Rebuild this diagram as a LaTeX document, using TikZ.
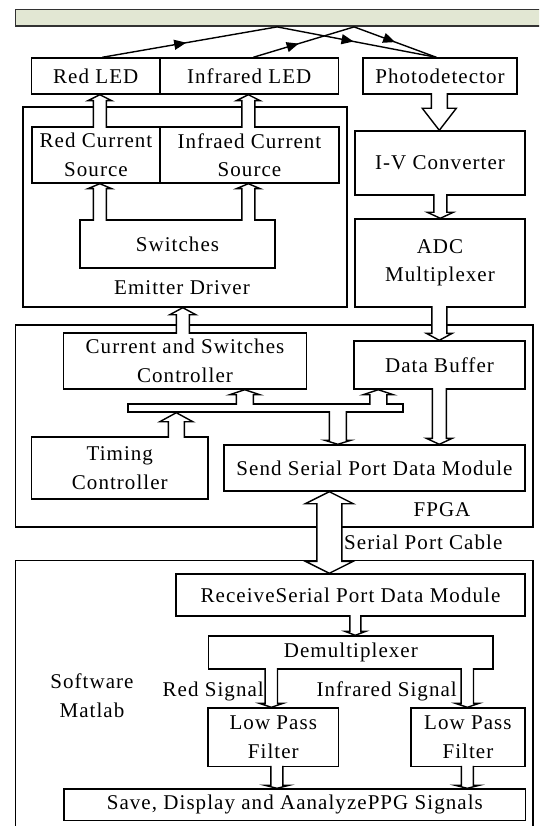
\documentclass[tikz,border=0pt]{standalone}
\usepackage{fontspec}
\setmainfont{Liberation Serif}[LetterSpace=5]
\usetikzlibrary{calc,arrows.meta,decorations.markings}
\definecolor{tissuefill}{RGB}{226,231,211}
\definecolor{tissueedge}{RGB}{50,50,50}

% Hollow block arrow with an open tail: #1 tail point, #2 tip point,
% #3 half shaft width, #4 half head width, #5 head length
\newcommand\hollowarrow[5]{%
  \filldraw[blockline, fill=white] let \p1=#1, \p2=#2, \n1={ifthenelse(\y2>\y1,1,-1)} in
    ({\x2-#3},{\y1-(\n1)*1.5pt}) -- ({\x2-#3},{\y2-(\n1)*#5}) -- ({\x2-#4},{\y2-(\n1)*#5})
    -- (\x2,\y2) -- ({\x2+#4},{\y2-(\n1)*#5}) -- ({\x2+#3},{\y2-(\n1)*#5})
    -- ({\x2+#3},{\y1-(\n1)*1.5pt});
}

\begin{document}
\begin{tikzpicture}[x=1pt, y=-1pt,
  font=\fontsize{21}{28.5}\selectfont,
  box/.style={draw, line width=1.4pt, inner sep=0pt, align=center},
  lbl/.style={inner sep=0pt, align=center},
  blockline/.style={line width=1.4pt, line join=miter},
  light/.style={line width=1.4pt, postaction={decorate},
    decoration={markings, mark=at position #1 with {\arrow{Triangle[length=12pt,width=10pt]}}}}]
\useasboundingbox (0,0) rectangle (539,826);
\clip (0,0) rectangle (539,826);

% measured tissue
\node[draw=tissueedge, fill=tissuefill, line width=1.8pt, minimum width=530pt,
      minimum height=16.5pt, inner sep=0pt] (tissue) at (280.5,17.75) {};

% optical front end
\node[box, minimum width=128.5pt, minimum height=36pt] (redled) at (95.75,76) {Red LED};
\node[box, minimum width=178.5pt, minimum height=36pt] (irled) at (249.25,76) {Infrared LED};
\node[box, minimum width=154pt, minimum height=36pt] (pd) at (440,76) {Photodetector};

% emitter driver
\node[box, minimum width=324pt, minimum height=200pt] (emitter) at (185,207) {};
\node[lbl] (emitterlbl) at (182,288) {Emitter Driver};
\node[box, minimum width=128pt, minimum height=56pt] (rcs) at (96,155) {Red Current\\Source};
\node[box, minimum width=179pt, minimum height=56pt] (ics) at (249.5,155) {Infraed Current\\Source};
\node[box, minimum width=195pt, minimum height=48pt] (sw) at (177.5,244) {Switches};

% receiver chain
\node[box, minimum width=170pt, minimum height=64pt] (iv) at (440,163) {I-V Converter};
\node[box, minimum width=170pt, minimum height=88pt] (adc) at (440,263) {ADC\\Multiplexer};

% FPGA
\node[box, minimum width=517.5pt, minimum height=202pt] (fpga) at (274.25,426) {};
\node[lbl] (fpgalbl) at (442,510) {FPGA};
\node[box, minimum width=243pt, minimum height=56pt] (csc) at (185,361) {Current and Switches\\Controller};
\node[box, minimum width=171pt, minimum height=48pt] (db) at (439.5,365) {Data Buffer};
\node[box, minimum width=275pt, minimum height=8pt] (bus) at (265.5,408) {};
\node[box, minimum width=176.4pt, minimum height=62pt] (timing) at (119.8,468) {Timing\\Controller};
\node[box, minimum width=301pt, minimum height=46pt] (ssend) at (374.5,468) {Send Serial Port Data Module};

% software side
\node[box, minimum width=517.5pt, minimum height=279.4pt] (soft) at (274.25,700.3) {};
\node[lbl] (softlbl) at (92,695.5) {Software\\Matlab};
\node[box, minimum width=349pt, minimum height=42pt] (recv) at (350.5,595) {ReceiveSerial Port Data Module};
\node[box, minimum width=284.3pt, minimum height=33pt] (demux) at (350.85,652.5) {Demultiplexer};
\node[box, minimum width=130.6pt, minimum height=58.6pt] (lpf1) at (273.3,737.3) {Low Pass\\Filter};
\node[box, minimum width=114.2pt, minimum height=58.6pt] (lpf2) at (467.9,737.3) {Low Pass\\Filter};
\node[box, minimum width=461.7pt, minimum height=31.7pt] (save) at (294.85,804.85) {Save, Display and AanalyzePPG Signals};

\node[lbl, anchor=west] (cablelbl) at (344,542) {Serial Port Cable};
\node[lbl, anchor=east] (redsig) at (264,691) {Red Signal};
\node[lbl, anchor=east] (irsig) at (457,691) {Infrared Signal};

% light paths through the tissue
\coordinate (t1) at ($(tissue.south west)+(262.5,0)$);
\coordinate (t2) at ($(tissue.south west)+(339.5,0)$);
\coordinate (r1) at ($(redled.north west)+(71.5,0)$);
\coordinate (i1) at ($(irled.north west)+(94,0)$);
\coordinate (p1) at ($(pd.north west)+(74,0)$);
\draw[light=0.48] (r1) -- (t1);
\draw[light=0.48] (t1) -- (p1);
\draw[light=0.45] (i1) -- (t2);
\draw[light=0.5] (t2) -- (p1);

% block arrows
\coordinate (a1) at ($(rcs.north west)+(68.5,0)$);
\coordinate (a2) at ($(ics.north west)+(89,0)$);
\coordinate (a3) at ($(sw.north west)+(20.5,0)$);
\coordinate (a4) at ($(sw.north west)+(169,0)$);
\coordinate (a5) at ($(pd.south west)+(77,0)$);
\coordinate (a6) at ($(iv.south west)+(86,0)$);
\coordinate (a7) at ($(adc.south west)+(85,0)$);
\coordinate (a8) at ($(csc.north west)+(120,0)$);
\coordinate (a9) at ($(bus.north west)+(117.5,0)$);
\coordinate (a10) at ($(bus.north west)+(251,0)$);
\coordinate (a11) at ($(bus.south west)+(210.5,0)$);
\coordinate (a12) at ($(timing.north west)+(145.4,0)$);
\coordinate (a13) at ($(db.south west)+(86,0)$);
\coordinate (a14) at ($(recv.south west)+(180,0)$);
\coordinate (a15) at ($(demux.south west)+(63.3,0)$);
\coordinate (a16) at ($(demux.south west)+(259.3,0)$);
\coordinate (a17) at ($(lpf1.south west)+(69.6,0)$);
\coordinate (a18) at ($(lpf2.south west)+(57.2,0)$);

\hollowarrow{(a1)}{(a1 |- redled.south)}{6.5pt}{12pt}{6pt}
\hollowarrow{(a2)}{(a2 |- irled.south)}{6.5pt}{12pt}{6pt}
\hollowarrow{(a3)}{(a3 |- rcs.south)}{6.5pt}{12pt}{5pt}
\hollowarrow{(a4)}{(a4 |- ics.south)}{6.5pt}{12pt}{5pt}
\hollowarrow{(a5)}{(a5 |- iv.north)}{8pt}{17pt}{22pt}
\hollowarrow{(a6)}{(a6 |- adc.north)}{6.5pt}{13pt}{6pt}
\hollowarrow{(a7)}{(a7 |- db.north)}{7.5pt}{13pt}{7pt}
\hollowarrow{(a8)}{(a8 |- emitter.south)}{6.5pt}{13pt}{7pt}
\hollowarrow{(a9)}{(a9 |- csc.south)}{8.5pt}{15pt}{5pt}
\hollowarrow{(a10)}{(a10 |- db.south)}{8.5pt}{15pt}{5pt}
\hollowarrow{(a11)}{(a11 |- ssend.north)}{8.5pt}{13pt}{4pt}
\hollowarrow{(a12)}{(a12 |- bus.south)}{8pt}{16.5pt}{9pt}
\hollowarrow{(a13)}{(a13 |- ssend.north)}{7pt}{13pt}{6pt}
\hollowarrow{(a14)}{(a14 |- demux.north)}{5.5pt}{10.5pt}{4pt}
\hollowarrow{(a15)}{(a15 |- lpf1.north)}{6.2pt}{12pt}{4pt}
\hollowarrow{(a16)}{(a16 |- lpf2.north)}{6.2pt}{12pt}{4pt}
\hollowarrow{(a17)}{(a17 |- save.north)}{6pt}{12pt}{3pt}
\hollowarrow{(a18)}{(a18 |- save.north)}{6pt}{12pt}{3pt}

% serial port cable, arrows at both ends
\coordinate (c1) at ($(ssend.south west)+(106,0)$);
\coordinate (c2) at (c1 |- recv.north);
\filldraw[blockline, fill=white] let \p1=(c1), \p2=(c2) in
  (\x1,\y1) -- ({\x1+24pt},{\y1-12pt}) -- ({\x1+12.5pt},{\y1-12pt}) -- ({\x1+12.5pt},{\y2+12pt})
  -- ({\x1+24pt},{\y2+12pt}) -- (\x1,\y2) -- ({\x1-24pt},{\y2+12pt}) -- ({\x1-12.5pt},{\y2+12pt})
  -- ({\x1-12.5pt},{\y1-12pt}) -- ({\x1-24pt},{\y1-12pt}) -- cycle;
\end{tikzpicture}
\end{document}
